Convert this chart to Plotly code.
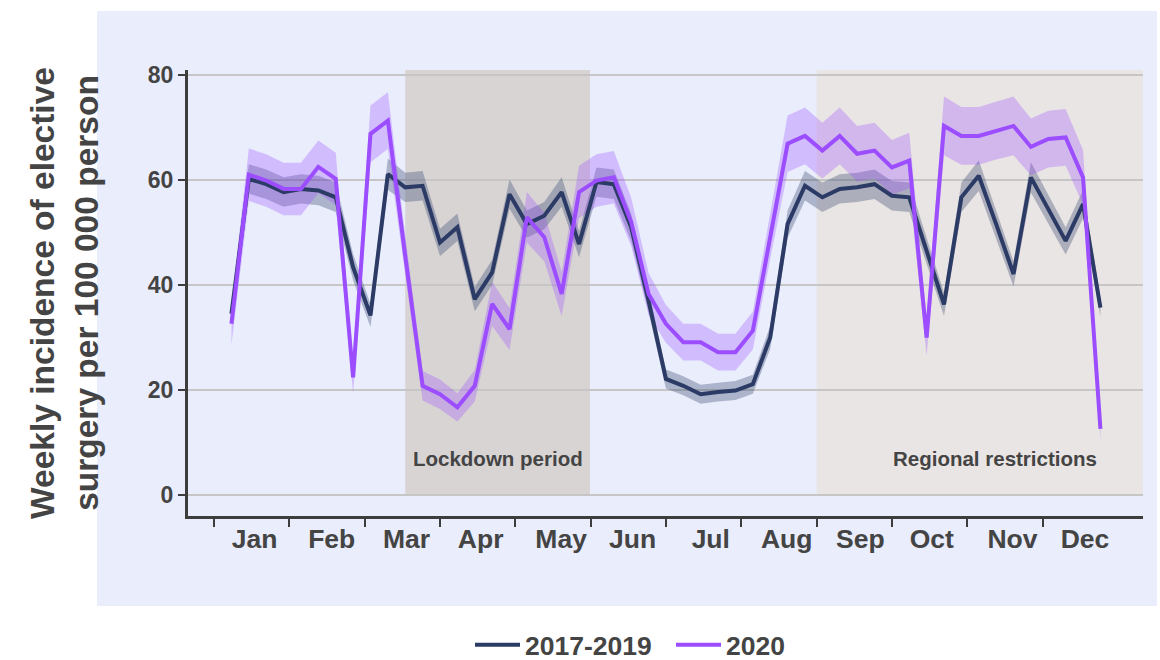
import plotly.graph_objects as go

weeks = list(range(1, 52))

inc_1719 = [34.5, 60.2, 59.2, 57.7, 58.3, 58.0, 56.7, 43.4, 34.2, 61.1,
            58.6, 58.9, 48.1, 51.0, 37.3, 42.4, 57.3, 51.6, 53.2, 57.7,
            47.8, 59.6, 59.2, 51.0, 37.0, 22.1, 20.8, 19.2, 19.6, 19.9,
            21.1, 30.0, 51.6, 58.9, 56.7, 58.3, 58.6, 59.2, 57.0, 56.7,
            46.5, 36.3, 56.7, 60.8, 51.6, 42.1, 60.5, 54.5, 48.4, 55.4,
            35.7]
ci_1719 = [1.5, 2.8, 2.8, 2.8, 2.8, 2.8, 2.8, 2.5, 2.2, 3.0,
           2.8, 2.8, 2.6, 2.6, 2.3, 2.4, 2.8, 2.6, 2.6, 2.8,
           2.5, 2.8, 2.8, 2.6, 2.2, 1.8, 1.8, 1.8, 1.8, 1.8,
           1.8, 2.2, 2.6, 2.8, 2.8, 2.8, 2.8, 2.8, 2.8, 2.8,
           2.5, 2.2, 2.8, 2.9, 2.6, 2.4, 2.9, 2.7, 2.6, 2.7,
           1.8]

inc_2020 = [32.6, 61.0, 59.9, 58.3, 58.3, 62.5, 60.2, 22.4, 68.8, 71.3,
            45.5, 20.8, 19.2, 16.7, 20.8, 36.4, 31.6, 52.9, 49.1, 38.3,
            57.7, 59.9, 60.5, 52.0, 38.3, 32.6, 29.1, 29.1, 27.2, 27.2,
            31.3, 49.5, 66.9, 68.4, 65.6, 68.4, 65.0, 65.6, 62.4, 63.7,
            30.0, 70.3, 68.4, 68.4, 69.4, 70.3, 66.3, 67.8, 68.1, 60.5,
            12.6]
ci_2020 = [4.0, 5.0, 5.0, 5.0, 5.0, 5.0, 5.0, 3.0, 5.4, 5.4,
           4.0, 2.8, 2.8, 2.7, 3.0, 4.2, 4.0, 4.8, 4.6, 4.2,
           5.0, 5.0, 5.0, 4.6, 4.0, 3.6, 3.5, 3.5, 3.5, 3.5,
           3.6, 4.5, 5.4, 5.4, 5.3, 5.4, 5.3, 5.3, 5.2, 5.3,
           3.5, 5.6, 5.5, 5.5, 5.5, 5.6, 5.4, 5.4, 5.4, 5.2,
           2.2]

month_labels = ["Jan", "Feb", "Mar", "Apr", "May", "Jun",
                "Jul", "Aug", "Sep", "Oct", "Nov", "Dec"]
month_label_pos = [2.33, 6.77, 11.07, 15.34, 19.97, 24.08,
                   28.58, 32.95, 37.19, 41.3, 45.94, 50.11]
month_starts = [0, 4.33, 8.67, 13, 17.33, 21.67, 26, 30.33, 34.67, 39, 43.33, 47.67]

lockdown_weeks = [11.0, 21.63]
regional_weeks = [34.67, 53.45]

x_range = [-1.5, 53.45]
y_range = [-4.0, 80.95]

C_DARK = "#2b3b66"
C_PURP = "#9b4dff"
FILL_DARK = "rgba(43,59,102,0.32)"
FILL_PURP = "rgba(155,77,255,0.30)"
TXT = "#444444"
FONT = "Liberation Sans, Arial, sans-serif"

fig = go.Figure()

def band(y, ci, color):
    upper = [a + b for a, b in zip(y, ci)]
    lower = [a - b for a, b in zip(y, ci)]
    return go.Scatter(x=weeks + weeks[::-1], y=upper + lower[::-1],
                      fill="toself", fillcolor=color, line=dict(width=0),
                      mode="lines", hoverinfo="skip", showlegend=False)

fig.add_trace(band(inc_1719, ci_1719, FILL_DARK))
fig.add_trace(band(inc_2020, ci_2020, FILL_PURP))
fig.add_trace(go.Scatter(x=weeks, y=inc_1719, mode="lines", name="2017-2019",
                         line=dict(color=C_DARK, width=4)))
fig.add_trace(go.Scatter(x=weeks, y=inc_2020, mode="lines", name="2020",
                         line=dict(color=C_PURP, width=4)))

ml, mr, mt, mb = 188, 17, 70, 144
W, H = 1160, 660
pw, ph = W - ml - mr, H - mt - mb

def px_to_paper_x(p):
    return (p - ml) / pw

def px_to_paper_y(p):
    return (H - mb - p) / ph

shapes = [
    dict(type="rect", xref="paper", yref="paper",
         x0=px_to_paper_x(97), x1=px_to_paper_x(1157),
         y0=px_to_paper_y(606), y1=px_to_paper_y(11),
         fillcolor="#e9edfc", line=dict(width=0), layer="below"),
    dict(type="rect", xref="x", yref="y",
         x0=lockdown_weeks[0], x1=lockdown_weeks[1], y0=0, y1=y_range[1],
         fillcolor="#d8d4d4", line=dict(width=0), layer="below"),
    dict(type="rect", xref="x", yref="y",
         x0=regional_weeks[0], x1=regional_weeks[1], y0=0, y1=y_range[1],
         fillcolor="#e9e5e4", line=dict(width=0), layer="below"),
]

annotations = [
    dict(x=sum(lockdown_weeks) / 2, y=6.9, xref="x", yref="y",
         text="Lockdown period", showarrow=False,
         font=dict(family=FONT, size=20.5, color=TXT, weight="bold")),
    dict(x=44.94, y=6.9, xref="x", yref="y",
         text="Regional restrictions", showarrow=False,
         font=dict(family=FONT, size=20.5, color=TXT, weight="bold")),
]

fig.update_layout(
    width=W, height=H,
    margin=dict(l=ml, r=mr, t=mt, b=mb, pad=0, autoexpand=False),
    paper_bgcolor="white",
    plot_bgcolor="#fdf8f7",
    shapes=shapes,
    annotations=annotations,
    font=dict(family=FONT, color=TXT),
    showlegend=True,
    legend=dict(orientation="h", x=px_to_paper_x(671), y=px_to_paper_y(645),
                xanchor="center", yanchor="middle",
                font=dict(family=FONT, size=26.5, color=TXT, weight="bold"),
                bgcolor="rgba(0,0,0,0)", itemwidth=45, tracegroupgap=0,
                entrywidth=141, entrywidthmode="pixels"),
    xaxis=dict(range=x_range, showgrid=False, zeroline=False,
               showline=True, linecolor="#3d3d3d", linewidth=3,
               tickvals=month_label_pos, ticktext=month_labels,
               ticks="", ticklabelstandoff=-3,
               tickfont=dict(family=FONT, size=26.5, color=TXT, weight="bold"),
               minor=dict(tickvals=month_starts, ticks="outside", ticklen=8,
                          tickwidth=2, tickcolor="#3d3d3d", showgrid=False)),
    yaxis=dict(range=y_range, showgrid=True, gridcolor="#c6c6c6", gridwidth=2,
               zeroline=False, showline=True, linecolor="#3d3d3d", linewidth=3,
               tickvals=[0, 20, 40, 60, 80], ticks="outside", ticklen=7,
               tickwidth=2, tickcolor="#3d3d3d",
               tickfont=dict(family=FONT, size=23, color=TXT, weight="bold"),
               title=dict(text="Weekly incidence of elective<br>surgery per 100 000 person",
                          font=dict(family=FONT, size=33.5, color=TXT, weight="bold"),
                          standoff=40)),
)

fig.write_html("out.html", config={"displayModeBar": False},
               post_script="document.body.style.margin='0';document.body.style.padding='0';")
